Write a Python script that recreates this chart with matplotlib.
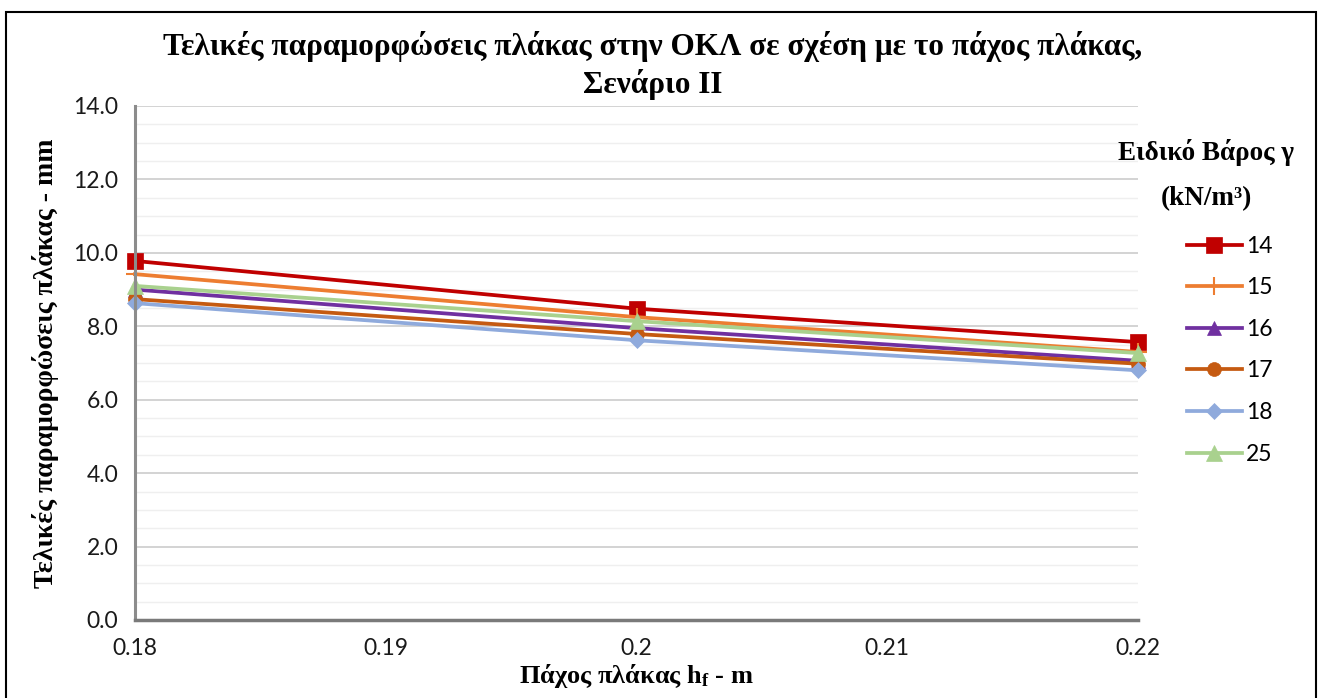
import matplotlib
matplotlib.use("Agg")
import matplotlib.pyplot as plt
from matplotlib.patches import Rectangle
from matplotlib.ticker import MultipleLocator, FixedLocator

# Πάχος πλάκας (m)
pachos = [0.18, 0.20, 0.22]
xticks = [0.18, 0.19, 0.20, 0.21, 0.22]
xtick_labels = ["0.18", "0.19", "0.2", "0.21", "0.22"]

# Παραμορφώσεις (mm) ανά ειδικό βάρος
gamma_14 = [9.78, 8.48, 7.57]
gamma_15 = [9.42, 8.25, 7.30]
gamma_16 = [9.00, 7.95, 7.06]
gamma_17 = [8.74, 7.79, 6.98]
gamma_18 = [8.63, 7.62, 6.80]
gamma_25 = [9.10, 8.14, 7.27]

series_labels = ["14", "15", "16", "17", "18", "25"]

plt.rcParams.update({
    "font.family": ["Lato", "DejaVu Sans"],
    "mathtext.fontset": "custom",
    "mathtext.rm": "Liberation Serif:bold",
    "mathtext.it": "Liberation Serif:bold",
    "mathtext.bf": "Liberation Serif:bold",
})

fig = plt.figure(figsize=(13.21, 6.98), dpi=100)
ax = fig.add_axes([135 / 1321, 78 / 698, 1003 / 1321, 514 / 698])

# Πλαίσιο γραφήματος
fig.patches.append(Rectangle((6 / 1321, -0.05), 1310 / 1321, (698 - 12) / 698 + 0.05,
                             transform=fig.transFigure, fill=False,
                             edgecolor="black", linewidth=1.5))

styles = [
    (gamma_14, "#C00000", "s", 11, 2.7),
    (gamma_15, "#ED7D31", "+", 13, 2.7),
    (gamma_16, "#7030A0", "^", 10, 2.7),
    (gamma_17, "#C55A11", "o", 10, 2.7),
    (gamma_18, "#8FAADC", "D", 8.5, 2.7),
    (gamma_25, "#A9D18E", "^", 12, 2.7),
]

for (vals, col, mk, ms, lw), lab in zip(styles, series_labels):
    ax.plot(pachos, vals, color=col, marker=mk, markersize=ms, linewidth=lw,
            markeredgewidth=1.5 if mk == "+" else 0.5, markeredgecolor=col,
            label=lab, clip_on=False)

ax.set_xlim(0.18, 0.22)
ax.set_ylim(0, 14)
ax.xaxis.set_major_locator(FixedLocator(xticks))
ax.set_xticklabels(xtick_labels)
ax.yaxis.set_major_locator(MultipleLocator(2))
ax.yaxis.set_minor_locator(MultipleLocator(0.5))
ax.yaxis.set_major_formatter(matplotlib.ticker.FormatStrFormatter("%.1f"))
ax.tick_params(axis="both", which="both", length=0, labelsize=16.5, colors="#1a1a1a")
ax.tick_params(axis="x", pad=13)
ax.tick_params(axis="y", pad=12)

ax.grid(True, which="major", axis="y", color="#d0d0d0", linewidth=1.3)
ax.grid(True, which="minor", axis="y", color="#efefef", linewidth=1.0)
ax.set_axisbelow(True)

for s in ["top", "right"]:
    ax.spines[s].set_visible(False)
ax.spines["left"].set_color("#8c8c8c")
ax.spines["left"].set_linewidth(2.2)
ax.spines["bottom"].set_color("#7a7a7a")
ax.spines["bottom"].set_linewidth(2.5)

fig.text(0.494, 1 - 47 / 698, "Τελικές παραμορφώσεις πλάκας στην ΟΚΛ σε σχέση με το πάχος πλάκας,",
         ha="center", va="center", fontsize=22.5, fontweight="bold", family="Liberation Serif")
fig.text(0.494, 1 - 84 / 698, "Σενάριο ΙΙ",
         ha="center", va="center", fontsize=22.5, fontweight="bold", family="Liberation Serif")

ax.set_xlabel("Πάχος πλάκας h$_{\\mathrm{f}}$ - m", fontsize=19, fontweight="bold",
              family="Liberation Serif", labelpad=2)
ax.set_ylabel("Τελικές παραμορφώσεις πλάκας - mm", fontsize=20, fontweight="bold",
              family="Liberation Serif", labelpad=10)

# Τίτλος υπομνήματος
fig.text(1206 / 1321, 1 - 153 / 698, "Ειδικό Βάρος γ", ha="center", va="center",
         fontsize=19.5, fontweight="bold", family="Liberation Serif")
fig.text(1206 / 1321, 1 - 199 / 698, "(kN/m³)", ha="center", va="center",
         fontsize=19.5, fontweight="bold", family="Liberation Serif")

leg = ax.legend(loc="upper left", bbox_to_anchor=(1166 / 1321, 1 - 215 / 698),
                bbox_transform=fig.transFigure, frameon=False, fontsize=16.5,
                handlelength=2.4, handletextpad=0.2, labelspacing=0.9)

fig.savefig("out.png", dpi=100)
